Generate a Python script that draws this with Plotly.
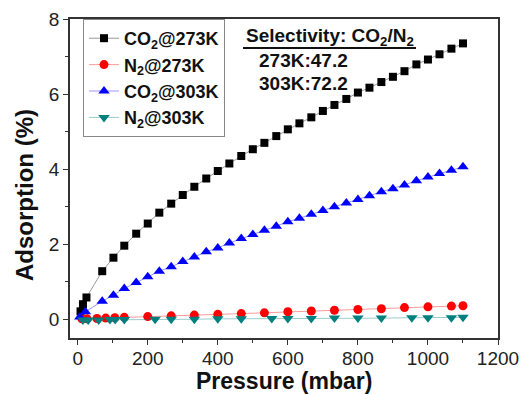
import plotly.graph_objects as go

# Adsorption isotherms (pressure in mbar, uptake in %)
p_co2_273 = [8, 15, 25, 70, 102, 133, 167, 200, 233, 267, 300, 333, 367, 400, 433,
             467, 500, 533, 567, 600, 633, 667, 700, 733, 767, 800, 833, 867, 900,
             933, 967, 1000, 1033, 1067, 1100]
a_co2_273 = [0.21, 0.40, 0.58, 1.28, 1.64, 1.96, 2.28, 2.55, 2.84, 3.08, 3.31, 3.53,
             3.75, 3.95, 4.15, 4.35, 4.53, 4.70, 4.88, 5.06, 5.22, 5.38, 5.55, 5.71,
             5.87, 6.04, 6.17, 6.32, 6.46, 6.61, 6.79, 6.92, 7.06, 7.21, 7.35]

p_n2_273 = [12, 27, 55, 80, 106, 133, 200, 267, 333, 400, 467, 533, 600, 667, 733,
            800, 867, 933, 1000, 1067, 1100]
a_n2_273 = [0.01, 0.01, 0.02, 0.03, 0.04, 0.05, 0.07, 0.09, 0.11, 0.13, 0.15, 0.17,
            0.20, 0.22, 0.24, 0.26, 0.28, 0.31, 0.33, 0.35, 0.36]

p_co2_303 = [6, 22, 70, 102, 133, 167, 200, 233, 267, 300, 333, 367, 400, 433, 467,
             500, 533, 567, 600, 633, 667, 700, 733, 767, 800, 833, 867, 900, 933,
             967, 1000, 1033, 1067, 1100]
a_co2_303 = [0.06, 0.20, 0.48, 0.64, 0.82, 0.98, 1.13, 1.28, 1.40, 1.54, 1.66, 1.80,
             1.90, 2.03, 2.15, 2.26, 2.37, 2.48, 2.60, 2.69, 2.80, 2.90, 3.00, 3.10,
             3.19, 3.29, 3.40, 3.48, 3.58, 3.69, 3.79, 3.88, 3.97, 4.06]

p_n2_303 = [15, 30, 60, 92, 107, 133, 221, 267, 333, 400, 467, 554, 600, 667, 733,
            800, 867, 954, 1000, 1067, 1100]
a_n2_303 = [-0.02, -0.02, -0.02, -0.01, -0.01, -0.01, 0.0, 0.0, 0.0, 0.01, 0.01,
            0.02, 0.02, 0.02, 0.03, 0.03, 0.03, 0.04, 0.04, 0.04, 0.05]

x_title = "Pressure (mbar)"
y_title = "Adsorption (%)"
selectivity_title = "Selectivity: CO<sub>2</sub>/N<sub>2</sub>"
selectivity_lines = ["273K:47.2", "303K:72.2"]

FONT = "Liberation Sans, Arial, sans-serif"
W, H = 520, 394
L, R, T, B = 70, 22, 19, 56
PW, PH = W - L - R, H - T - B


def px_to_paper(xp, yp):
    return (xp - L) / PW, (H - B - yp) / PH


series = [
    ("CO<sub>2</sub>@273K", p_co2_273, a_co2_273, "black", "rgba(0,0,0,0.4)", "square", 8),
    ("N<sub>2</sub>@273K", p_n2_273, a_n2_273, "#ff0000", "rgba(255,0,0,0.4)", "circle", 9),
    ("CO<sub>2</sub>@303K", p_co2_303, a_co2_303, "#0000ff", "rgba(0,0,255,0.4)", "triangle-up", 10),
    ("N<sub>2</sub>@303K", p_n2_303, a_n2_303, "#007f7f", "rgba(0,127,127,0.4)", "triangle-down", 10),
]

fig = go.Figure()
for name, x, y, mcol, lcol, sym, size in series:
    fig.add_trace(go.Scatter(
        x=x, y=y, name="<b>" + name + "</b>", mode="lines+markers",
        line=dict(color=lcol, width=1),
        marker=dict(symbol=sym, size=size, color=mcol, line=dict(width=0)),
    ))

axis_common = dict(
    showline=True, linecolor="#333", linewidth=1.5, mirror=True,
    showgrid=False, zeroline=False, automargin=False,
    ticks="outside", ticklen=5, tickwidth=1.2, tickcolor="#333",
    tickfont=dict(family=FONT, size=19, color="#222"),
)

fig.update_xaxes(
    range=[-22, 1200], tickmode="linear", tick0=0, dtick=200,
    minor=dict(ticks="outside", ticklen=3, tickwidth=1.2, tickcolor="#333", dtick=100, tick0=0),
    ticklabelstandoff=-3,
    **axis_common,
)
fig.update_yaxes(
    range=[-0.5, 8], tickmode="linear", tick0=0, dtick=2,
    minor=dict(ticks="outside", ticklen=3, tickwidth=1.2, tickcolor="#333", dtick=1, tick0=0),
    **axis_common,
)

annotations = []
for text, xp, yp, size in [(selectivity_title, 244, 37, 19),
                           (selectivity_lines[0], 257, 60, 19),
                           (selectivity_lines[1], 257, 84, 19)]:
    ax, ay = px_to_paper(xp, yp)
    annotations.append(dict(
        text="<b>" + text + "</b>", x=ax, y=ay, xref="paper", yref="paper",
        xanchor="left", yanchor="middle", showarrow=False,
        font=dict(family=FONT, size=size, color="#111"),
    ))

# axis titles
tx, ty = px_to_paper(284, 381)
annotations.append(dict(text="<b>" + x_title + "</b>", x=tx, y=ty, xref="paper", yref="paper",
                        xanchor="center", yanchor="middle", showarrow=False,
                        font=dict(family=FONT, size=23, color="#111")))
tx, ty = px_to_paper(24, 195)
annotations.append(dict(text="<b>" + y_title + "</b>", x=tx, y=ty, xref="paper", yref="paper",
                        xanchor="center", yanchor="middle", showarrow=False, textangle=-90,
                        font=dict(family=FONT, size=24, color="#111")))
fig.update_layout(annotations=annotations)

# underline below the selectivity heading
u0x, uy = px_to_paper(243, 48)
u1x, _ = px_to_paper(416, 48)
fig.add_shape(type="line", xref="paper", yref="paper",
              x0=u0x, x1=u1x, y0=uy, y1=uy,
              line=dict(color="#111", width=2))

lx, ly = px_to_paper(83, 19)
fig.update_layout(
    width=W, height=H,
    margin=dict(l=L, r=R, t=T, b=B),
    paper_bgcolor="white", plot_bgcolor="white",
    font=dict(family=FONT, color="#111"),
    legend=dict(
        x=lx, y=ly, xanchor="left", yanchor="top",
        bgcolor="white", bordercolor="#888", borderwidth=1,
        font=dict(family=FONT, size=18, color="#111"),
        itemwidth=30, tracegroupgap=0,
    ),
)

fig.write_html("out.html")
